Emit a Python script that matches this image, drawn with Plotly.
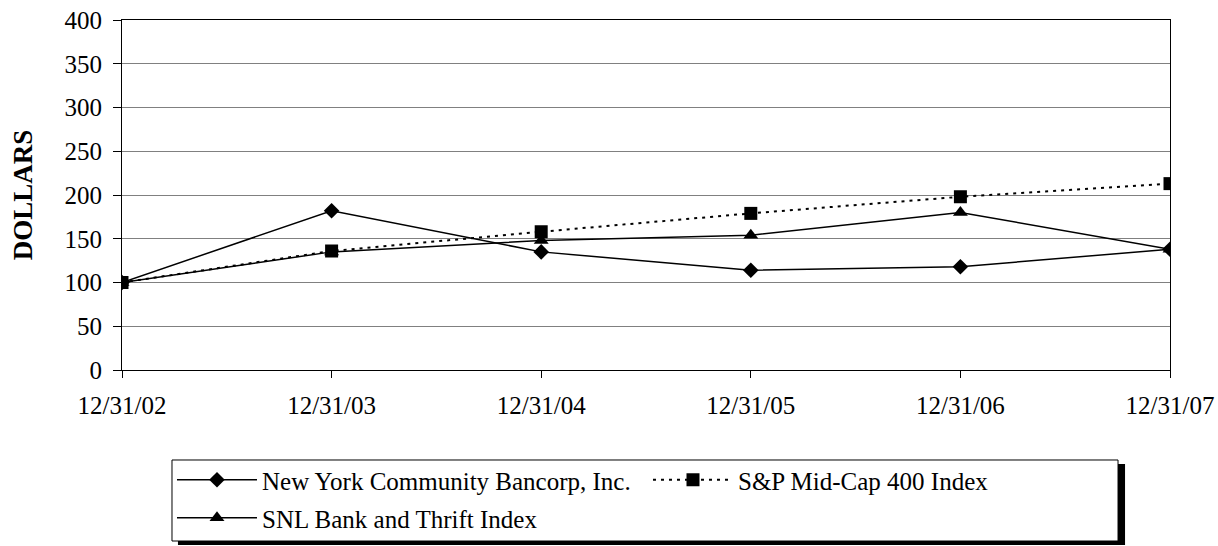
import plotly.graph_objects as go

dates = ["12/31/02", "12/31/03", "12/31/04", "12/31/05", "12/31/06", "12/31/07"]
nycb = [100, 182, 135, 114, 118, 138]
sp400 = [100, 136, 158, 179, 198, 213]
snl = [100, 135, 148, 154, 180, 138]
yticks = [0, 50, 100, 150, 200, 250, 300, 350, 400]

names = ["New York Community Bancorp, Inc.", "S&P Mid-Cap 400 Index", "SNL Bank and Thrift Index"]

xpos = list(range(len(dates)))
font = "Liberation Serif"

fig = go.Figure()
fig.add_trace(go.Scatter(x=xpos, y=nycb, name=names[0], legend="legend",
                         mode="lines+markers", line=dict(color="black", width=1.5),
                         marker=dict(symbol="diamond", size=12, color="black")))
fig.add_trace(go.Scatter(x=xpos, y=sp400, name=names[1], legend="legend2",
                         mode="lines+markers", line=dict(color="black", width=2, dash="3px,5px"),
                         marker=dict(symbol="square", size=13, color="black")))
fig.add_trace(go.Scatter(x=xpos, y=snl, name=names[2], legend="legend3",
                         mode="lines+markers", line=dict(color="black", width=1.5),
                         marker=dict(symbol="triangle-up", size=13, color="black")))

# legend box with shadow
fig.add_shape(type="rect", xref="paper", yref="paper", x0=0.0534, x1=0.9571, y0=-0.50, y1=-0.2686,
              fillcolor="black", line=dict(width=0), layer="above")
fig.add_shape(type="rect", xref="paper", yref="paper", x0=0.0477, x1=0.9504, y0=-0.4886, y1=-0.2571,
              fillcolor="white", line=dict(color="black", width=1), layer="above")

legend_common = dict(orientation="h", xanchor="left", yanchor="middle",
                     bgcolor="rgba(0,0,0,0)", borderwidth=0, font=dict(size=25),
                     itemwidth=80)

fig.update_layout(
    width=1218, height=546,
    margin=dict(l=122, r=48, t=20, b=176, autoexpand=False),
    paper_bgcolor="white", plot_bgcolor="white",
    font=dict(family=font, size=25, color="black"),
    xaxis=dict(range=[0, 5], tickvals=xpos, ticktext=dates, showgrid=False,
               showline=True, mirror=True, linecolor="black", linewidth=1, ticks="outside",
               ticklen=7, tickcolor="black", zeroline=False, tickfont=dict(size=25),
               ticklabelstandoff=6, automargin=False, ticklabeloverflow="allow"),
    yaxis=dict(range=[0, 400], tickvals=yticks, showgrid=True, gridcolor="#808080",
               gridwidth=1, showline=True, mirror=True, linecolor="black", linewidth=1,
               ticks="outside", ticklen=8, tickcolor="black", zeroline=False,
               tickfont=dict(size=25), ticklabelstandoff=6, automargin=False,
               ticklabeloverflow="allow",
               title=dict(text="<b>DOLLARS</b>", font=dict(size=27), standoff=24)),
    legend=dict(x=0.0477, y=-0.3143, **legend_common),
    legend2=dict(x=0.5019, y=-0.3143, **legend_common),
    legend3=dict(x=0.0477, y=-0.4229, **legend_common),
    showlegend=True,
)

fig.write_html("out.html", config={"displayModeBar": False},
               post_script="document.body.style.margin='0';")
